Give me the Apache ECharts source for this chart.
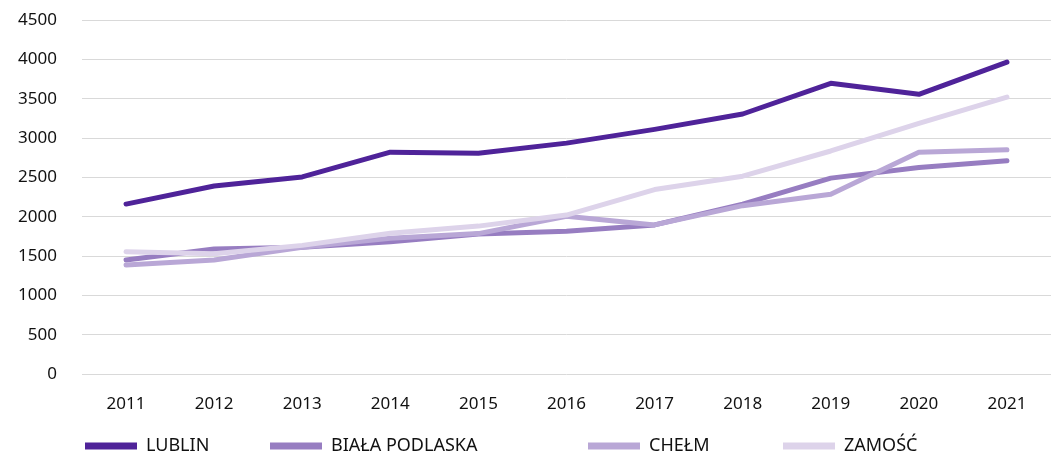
<!DOCTYPE html>
<html style="height:100%;">
<head>
    <meta charset="utf-8">
    <title>Lublin, Biała Podlaska, Chełm, Zamość</title>
    <script src="https://cdn.jsdelivr.net/npm/echarts@6/dist/echarts.min.js"></script>
</head>
<body style="height: 100%; margin: 0;">
    <div id="main" style="width:1051px; height:453px;"></div>
    <script type="text/javascript">
    // dane
    var years = ['2011', '2012', '2013', '2014', '2015', '2016', '2017', '2018', '2019', '2020', '2021'];
    var yTicks = [0, 500, 1000, 1500, 2000, 2500, 3000, 3500, 4000, 4500];
    var lublin = [2160, 2390, 2505, 2820, 2805, 2935, 3110, 3305, 3695, 3555, 3965];
    var bialaPodlaska = [1450, 1590, 1610, 1680, 1780, 1815, 1895, 2160, 2490, 2625, 2710];
    var chelm = [1385, 1450, 1610, 1725, 1785, 2005, 1895, 2140, 2285, 2820, 2850];
    var zamosc = [1555, 1530, 1635, 1790, 1880, 2020, 2345, 2515, 2835, 3185, 3520];

    var names = ['LUBLIN', 'BIAŁA PODLASKA', 'CHEŁM', 'ZAMOŚĆ'];
    var colors = ['#4f2399', '#977dc1', '#b9a7d6', '#ddd3ea'];
    var values = [lublin, bialaPodlaska, chelm, zamosc];
    var legendLeft = [80, 265, 583, 778];

    var font = '"Noto Sans", "Open Sans", sans-serif';
    var myChart = echarts.init(document.getElementById('main'));

    myChart.setOption({
        animation: false,
        color: colors,
        textStyle: { fontFamily: font },
        grid: { left: 82, top: 20, width: 978, height: 354 },
        legend: names.map(function (n, i) {
            return {
                data: [{
                    name: n,
                    icon: 'rect',
                    itemStyle: { color: colors[i], borderWidth: 0 },
                    lineStyle: { cap: 'butt', width: 0 }
                }],
                left: legendLeft[i],
                top: 432,
                itemWidth: 52,
                itemHeight: 7,
                itemGap: 0,
                textStyle: { fontSize: 18, color: '#111', fontFamily: font, padding: [0, 0, 0, 4] }
            };
        }),
        xAxis: {
            type: 'category',
            data: years,
            boundaryGap: true,
            axisLine: { show: false },
            axisTick: { show: false },
            axisLabel: { fontSize: 17, color: '#111', margin: 22 }
        },
        yAxis: {
            type: 'value',
            min: yTicks[0],
            max: yTicks[yTicks.length - 1],
            interval: 500,
            axisLine: { show: false },
            axisTick: { show: false },
            axisLabel: {
                fontSize: 17, color: '#111', margin: 25,
                formatter: function (v) { return String(v); }
            },
            splitLine: { lineStyle: { color: '#d9d9d9', width: 1 } }
        },
        series: names.map(function (n, i) {
            return {
                name: n,
                type: 'line',
                data: values[i],
                symbol: 'none',
                legendIcon: 'rect',
                lineStyle: { width: 5, color: colors[i], cap: 'round', join: 'round' },
                itemStyle: { color: colors[i] }
            };
        })
    });
    </script>
</body>
</html>
